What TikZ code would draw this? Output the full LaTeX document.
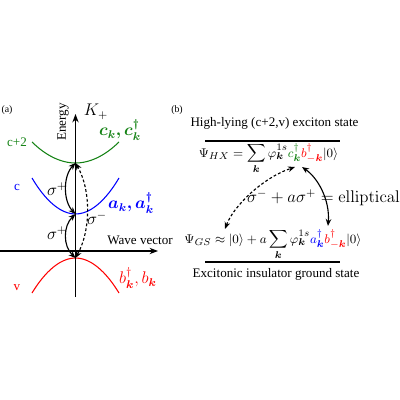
\documentclass[tikz,border=0pt]{standalone}
\usepackage{amsmath,bm}
\usepackage[no-math]{fontspec}
\setmainfont{Liberation Serif}
\usetikzlibrary{arrows.meta}
\definecolor{bgreen}{RGB}{20,130,20}
\definecolor{bblue}{RGB}{0,0,255}
\definecolor{bred}{RGB}{255,0,0}
\begin{document}
\begin{tikzpicture}[x=0.025cm,y=-0.025cm,
  axis/.style={line width=0.9pt,-{Stealth[length=6pt,width=4.5pt]}},
  band/.style={line width=0.75pt},
  trans/.style={line width=0.8pt,{Stealth[length=5pt,width=4pt]}-{Stealth[length=5pt,width=4pt]}},
  rule/.style={line width=0.9pt},
  lbl/.style={inner sep=0pt,font=\fontsize{9.3}{11}\selectfont},
  big/.style={inner sep=0pt,font=\fontsize{11.5}{13}\selectfont},
  tiny/.style={inner sep=0pt,font=\fontsize{7}{8}\selectfont},
 ]
\useasboundingbox (0,0) rectangle (400,400);
% ---------- panel (a) ----------
\coordinate (vtop) at (75.5,114);
\coordinate (vbot) at (75.5,297);
\coordinate (hleft) at (0,251);
\coordinate (hright) at (158,251);
\coordinate (gmin) at (75.5,163);
\coordinate (bmin) at (75.5,214);
\coordinate (rmax) at (75.5,258);
\draw[band,bgreen] (32,142) parabola bend (gmin) (119,142);
\draw[band,bblue] (32,178) parabola bend (bmin) (119,178);
\draw[band,bred] (32,293) parabola bend (rmax) (119,293);
\draw[axis] (vbot) -- (vtop);
\draw[axis] (hleft) -- (hright);
\draw[trans] (rmax) .. controls (63,246) and (63,226) .. (bmin);
\draw[trans] (bmin) .. controls (63,201) and (63,176) .. (gmin);
\draw[trans,dash pattern=on 2pt off 1.5pt] (rmax) .. controls (91,230) and (91,190) .. (gmin);
\node[tiny] (la) at (7,110) {(a)};
\node[lbl,rotate=90] (energy) at (63,122) {Energy};
\node[big] (kp) at (96,112) {$K_+$};
\node[lbl,text=bgreen] (c2) at (17,142) {c+2};
\node[lbl,text=bblue] (cb) at (17,187) {c};
\node[lbl,text=bred] (vb) at (17,288) {v};
\node[big,text=bgreen] (ck) at (120,130) {$\bm{c_k, c_k^\dagger}$};
\node[big,text=bblue] (ak) at (131,203) {$\bm{a_k, a_k^\dagger}$};
\node[big,text=bred] (bk) at (138,278) {$b_{\bm k}^\dagger, b_{\bm k}$};
\node[lbl] (wv) at (140,240) {Wave vector};
\node[big] (s1) at (57,189) {$\sigma^+$};
\node[big] (s2) at (57,233) {$\sigma^+$};
\node[big] (s3) at (97,218) {$\sigma^-$};
% ---------- panel (b) ----------
\node[tiny] (lb) at (177,110) {(b)};
\node[lbl] (title) at (274.5,123) {High-lying (c+2,v) exciton state};
\coordinate (r1a) at (205,141);
\coordinate (r1b) at (340,141);
\draw[rule] (r1a) -- (r1b);
\node[lbl,anchor=base] (hx) at (268.5,157) {$\displaystyle \Psi_{HX}=\sum_{\bm k}\varphi^{1s}_{\bm k}{\color{bgreen}c^\dagger_{\bm k}}{\color{bred}b^\dagger_{-\bm k}}|0\rangle$};
\node[big] (ell) at (323.5,198) {$\sigma^-+a\sigma^+=\mathrm{elliptical}$};
\node[lbl,anchor=base] (gs) at (273,243) {$\displaystyle \Psi_{GS}\approx|0\rangle+a\sum_{\bm k}\varphi^{1s}_{\bm k}{\color{bblue}a^\dagger_{\bm k}}{\color{bred}b^\dagger_{-\bm k}}|0\rangle$};
\coordinate (r2a) at (205,262);
\coordinate (r2b) at (340,262);
\draw[rule] (r2a) -- (r2b);
\node[lbl] (sub) at (276,274) {Excitonic insulator ground state};
\coordinate (hxa) at (295,167);
\coordinate (gsa) at (225,229);
\coordinate (hxb) at (302,167);
\coordinate (gsb) at (328,226);
\draw[trans,dash pattern=on 2pt off 1.5pt] (gsa) .. controls (233,207) and (262,178) .. (hxa);
\draw[trans] (hxb) .. controls (318,178) and (330,200) .. (gsb);
\end{tikzpicture}
\end{document}
